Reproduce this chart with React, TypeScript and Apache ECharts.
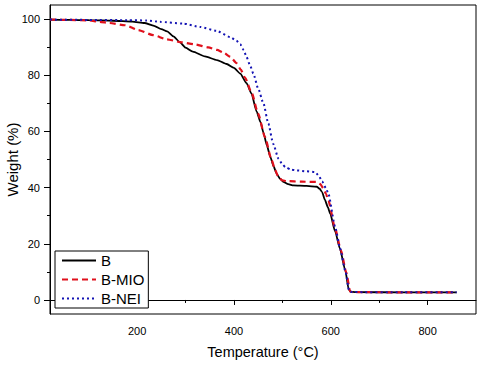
import React, { useEffect, useRef } from "react";
import * as echarts from "echarts";

const seriesNames = ["B", "B-MIO", "B-NEI"];

const bTemp = [20, 60, 100, 150, 190, 215, 235, 250, 262, 275, 288, 300, 315, 340, 365, 385, 400, 413, 426, 436, 447, 455, 461, 468, 475, 482, 488, 495, 502, 512, 523, 550, 571, 577, 582, 588, 594, 599, 609, 619, 630, 637, 641, 650, 750, 860];
const bWeight = [99.8, 99.7, 99.6, 99.4, 99.1, 98.6, 97.6, 96.4, 95.6, 93.8, 91.8, 89.8, 88.4, 86.7, 85.4, 84.0, 82.6, 80.6, 77.2, 73.5, 67.0, 63.2, 59.5, 55.0, 51.0, 47.5, 45.0, 43.2, 42.0, 41.2, 40.8, 40.6, 40.3, 39.6, 38.4, 35.6, 33.0, 30.6, 24.4, 18.2, 10.5, 3.8, 2.9, 2.8, 2.7, 2.7];

const mioTemp = [20, 60, 100, 123, 143, 175, 202, 233, 261, 292, 319, 347, 365, 378, 392, 406, 414, 423, 437, 450, 464, 478, 485, 492, 500, 509, 540, 571, 578, 585, 590, 595, 609, 621, 632, 640, 645, 750, 860];
const mioWeight = [99.8, 99.7, 99.5, 99.0, 98.6, 97.8, 96.1, 94.3, 92.8, 91.7, 91.0, 89.9, 89.0, 88.1, 86.6, 84.2, 82.0, 79.1, 73.5, 66.3, 58.0, 49.7, 46.3, 43.6, 42.6, 42.3, 42.1, 42.0, 41.3, 39.6, 37.8, 35.4, 25.4, 17.6, 9.8, 3.0, 2.8, 2.7, 2.7];

const neiTemp = [20, 100, 180, 220, 247, 295, 330, 364, 392, 405, 413, 420, 426, 433, 440, 450, 461, 471, 481, 492, 500, 506, 518, 530, 550, 568, 575, 582, 590, 595, 609, 619, 630, 638, 644, 750, 860];
const neiWeight = [99.8, 99.7, 99.6, 99.5, 99.0, 98.4, 97.2, 95.8, 93.6, 92.3, 91.0, 89.0, 86.5, 83.6, 80.6, 75.3, 69.9, 62.8, 55.6, 50.3, 48.3, 47.3, 46.4, 46.1, 45.8, 45.5, 44.3, 42.2, 39.8, 37.8, 26.0, 18.4, 10.4, 3.2, 2.8, 2.7, 2.7];

const xMajorTicks = [200, 400, 600, 800];
const xMinorTicks = [100, 300, 500, 700];
const yMajorTicks = [0, 20, 40, 60, 80, 100];
const yMinorTicks = [10, 30, 50, 70, 90];

const FONT = 'Arial, "Liberation Sans", sans-serif';

function pairs(xs: number[], ys: number[]) {
  return xs.map((x, i) => [x, ys[i]]);
}

export default function App() {
  const ref = useRef<HTMLDivElement>(null);
  useEffect(() => {
    if (!ref.current) return;
    const chart = echarts.init(ref.current, null, { renderer: "svg" });
    const xBase = {
      type: "value",
      min: 20,
      max: 900,
      position: "bottom",
      splitLine: { show: false },
    };
    const yBase = {
      type: "value",
      min: -5,
      max: 105,
      position: "left",
      splitLine: { show: false },
    };
    chart.setOption({
      animation: false,
      backgroundColor: "#ffffff",
      grid: {
        left: 50,
        top: 5,
        right: 9,
        bottom: 52,
        containLabel: false,
        outerBoundsMode: "none",
        show: true,
        borderColor: "#000",
        borderWidth: 1,
        backgroundColor: "transparent",
      },
      legend: {
        orient: "vertical",
        left: 55,
        top: 251,
        data: seriesNames,
        borderColor: "#000",
        borderWidth: 1,
        padding: [2, 4, 2, 6],
        itemWidth: 34,
        itemHeight: 15,
        itemGap: 4,
        itemStyle: { opacity: 0 },
        textStyle: { fontFamily: FONT, fontSize: 15, color: "#000" },
        backgroundColor: "#fff",
      },
      xAxis: [
        {
          ...xBase,
          name: "Temperature (°C)",
          nameLocation: "middle",
          nameGap: 30,
          nameMoveOverlap: false,
          nameTextStyle: { fontFamily: FONT, fontSize: 14.5, color: "#000" },
          axisLine: { show: true, lineStyle: { color: "#000", width: 1 } },
          axisTick: { show: true, length: 5, customValues: xMajorTicks, lineStyle: { color: "#000" } },
          axisLabel: { show: true, customValues: xMajorTicks, margin: 11, fontFamily: FONT, fontSize: 11, color: "#000" },
        },
        {
          ...xBase,
          axisLine: { show: false },
          axisTick: { show: true, length: 3, customValues: xMinorTicks, lineStyle: { color: "#000" } },
          axisLabel: { show: false },
        },
      ],
      yAxis: [
        {
          ...yBase,
          name: "Weight (%)",
          nameLocation: "middle",
          nameGap: 30,
          nameMoveOverlap: false,
          nameTextStyle: { fontFamily: FONT, fontSize: 15, color: "#000" },
          axisLine: { show: true, lineStyle: { color: "#000", width: 1 } },
          axisTick: { show: true, length: 6, customValues: yMajorTicks, lineStyle: { color: "#000" } },
          axisLabel: { show: true, customValues: yMajorTicks, margin: 10, fontFamily: FONT, fontSize: 11, color: "#000" },
        },
        {
          ...yBase,
          axisLine: { show: false },
          axisTick: { show: true, length: 3, customValues: yMinorTicks, lineStyle: { color: "#000" } },
          axisLabel: { show: false },
        },
      ],
      series: [
        {
          name: seriesNames[0],
          type: "line",
          data: pairs(bTemp, bWeight),
          symbol: "none",
          showSymbol: false,
          smooth: 0.2,
          smoothMonotone: "x",
          color: "#000",
          lineStyle: { color: "#000", width: 1.8 },
        },
        {
          name: seriesNames[1],
          type: "line",
          data: pairs(mioTemp, mioWeight),
          symbol: "none",
          showSymbol: false,
          smooth: 0.2,
          smoothMonotone: "x",
          color: "#e0101c",
          lineStyle: { color: "#e0101c", width: 2.2, type: [6, 4] },
        },
        {
          name: seriesNames[2],
          type: "line",
          data: pairs(neiTemp, neiWeight),
          symbol: "none",
          showSymbol: false,
          smooth: 0.2,
          smoothMonotone: "x",
          color: "#1414b4",
          lineStyle: { color: "#1414b4", width: 2, type: [2, 3] },
        },
      ],
    });
    return () => chart.dispose();
  }, []);
  return (
    <div
      ref={ref}
      style={{ position: "fixed", left: 0, top: 0, width: 485, height: 366, background: "#fff" }}
    />
  );
}
